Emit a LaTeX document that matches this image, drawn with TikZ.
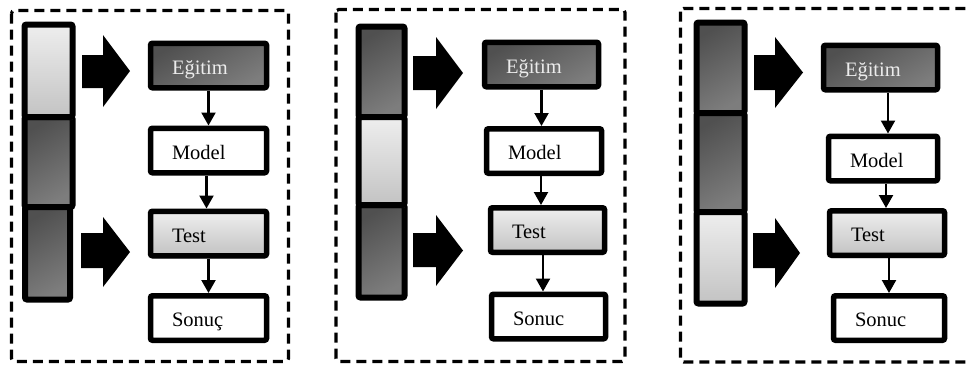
\documentclass[tikz,border=0pt]{standalone}
\usepackage{fontspec}
\setmainfont{Liberation Serif}
\usetikzlibrary{arrows.meta,shadows}
\definecolor{dkA}{RGB}{80,80,80}
\definecolor{dkB}{RGB}{125,125,125}
\definecolor{ltA}{RGB}{238,238,238}
\definecolor{ltB}{RGB}{195,195,195}
\definecolor{dktext}{RGB}{236,236,236}
\newcommand\bigarr[7]{\fill (#1,#4) -- (#2,#4) -- (#2,#6) -- (#3,{(#6+#7)/2}) -- (#2,#7) -- (#2,#5) -- (#1,#5) -- cycle;}
\begin{document}
\begin{tikzpicture}[x=1pt,y=-1pt,
 frame/.style={draw, line width=3.2pt, dash pattern=on 10pt off 6pt, rounded corners=3pt},
 seg/.style={draw, line width=6pt, rounded corners=2pt},
 dark/.style={top color=dkA, bottom color=dkB, shading angle=30},
 light/.style={top color=ltA, bottom color=ltB},
 lshadow/.style={drop shadow={opacity=0.25, shadow xshift=1pt, shadow yshift=-3pt}},
 box/.style={draw, line width=5.5pt, rounded corners=2pt, minimum height=44.5pt, inner xsep=21.5pt, align=left, text height=17.6pt, text depth=0pt, font=\fontsize{20.5}{24}\selectfont},
 darkbox/.style={box, dark, text=dktext},
 lightbox/.style={box, light, lshadow},
 whitebox/.style={box, fill=white},
 arr/.style={-{Triangle[width=14pt,length=13pt]}, line width=2.2pt}]
\clip (0,0) rectangle (969,365);
\fill[white] (0,0) rectangle (969,365);

% ---------- panel 1 ----------
\path[frame] (11.5,10.5) rectangle (288.5,361.5);
\path[seg,dark] (24.5,117) rectangle (72.5,207);
\path[seg,dark] (25,207) rectangle (70,299.5);
\path[seg,light,lshadow] (24.5,24.5) rectangle (72.5,117);
\bigarr{82}{103}{130}{55}{88}{35}{107}
\bigarr{81}{103}{130}{233}{268}{217}{287}
\node[darkbox, text width=73pt] (E1) at (208.5,65.5) {Eğitim};
\node[whitebox, text width=73pt] (M1) at (208.5,150.5) {Model};
\node[lightbox, text width=73pt] (T1) at (208.5,233.5) {Test};
\node[whitebox, text width=73pt] (S1) at (208.5,318) {Sonuç};
\draw[arr] (E1.south) -- (M1.north);
\coordinate (m1a) at ([xshift=-2pt]M1.south);
\draw[arr] (m1a) -- (m1a |- T1.north);
\draw[arr] (T1.south) -- (S1.north);

% ---------- panel 2 ----------
\path[frame] (336,9.5) rectangle (625,361.5);
\path[seg,dark] (358.5,26.5) rectangle (404.5,117);
\path[seg,dark] (358.5,205) rectangle (404.5,297.5);
\path[seg,light,lshadow] (358.5,117) rectangle (404.5,205);
\bigarr{413}{436}{463}{56}{90}{37}{109}
\bigarr{413}{436}{463}{233}{267}{215}{286}
\node[darkbox, text width=71pt] (E2) at (541.5,64.5) {Eğitim};
\node[whitebox, text width=72pt] (M2) at (544,151) {Model};
\node[lightbox, text width=71pt] (T2) at (547.5,230) {Test};
\node[whitebox, text width=71pt] (S2) at (548.5,316.5) {Sonuc};
\draw[arr] (E2.south) -- (E2.south |- M2.north);
\coordinate (m2a) at ([xshift=-3pt]M2.south);
\draw[arr] (m2a) -- (m2a |- T2.north);
\coordinate (t2a) at ([xshift=-4.5pt]T2.south);
\draw[arr] (t2a) -- (t2a |- S2.north);

% ---------- panel 3 ----------
\path[frame] (680.5,8.5) rectangle (985,362);
\path[seg,dark] (696.5,22.5) rectangle (744.5,113);
\path[seg,dark] (696.5,113) rectangle (744.5,212);
\path[seg,light,lshadow] (696.5,212) rectangle (744.5,303.5);
\bigarr{754}{775}{803}{55}{90}{37}{108}
\bigarr{753}{775}{800}{233}{268}{218}{288}
\node[darkbox, text width=71pt] (E3) at (880.5,67.5) {Eğitim};
\node[whitebox, text width=66pt] (M3) at (883,158.5) {Model};
\node[lightbox, text width=72pt] (T3) at (887,233) {Test};
\node[whitebox, text width=68pt] (S3) at (889,318) {Sonuc};
\coordinate (e3a) at ([xshift=7.5pt]E3.south);
\draw[arr] (e3a) -- (e3a |- M3.north);
\coordinate (m3a) at ([xshift=3pt]M3.south);
\draw[arr] (m3a) -- (m3a |- T3.north);
\coordinate (t3a) at ([xshift=2pt]T3.south);
\draw[arr] (t3a) -- (t3a |- S3.north);
\end{tikzpicture}
\end{document}
